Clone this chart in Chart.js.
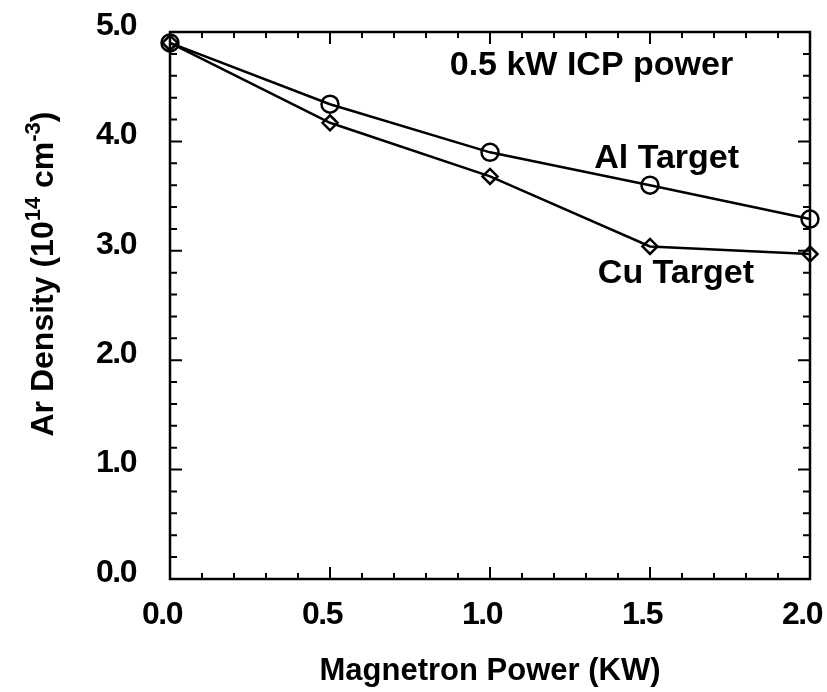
<!DOCTYPE html>
<html>
<head>
<meta charset="utf-8">
<script src="https://cdn.jsdelivr.net/npm/chart.js@4/dist/chart.umd.min.js"></script>
<style>
  html, body { margin: 0; padding: 0; background: #fff; }
  canvas { display: block; }
</style>
</head>
<body>
<canvas id="densityChart" width="827" height="692"></canvas>
<script>
"use strict";

// Magnetron power (kW) and Ar density (1e14 cm^-3) for each target
const POWER      = [0, 0.5, 1.0, 1.5, 2.0];
const AL_DENSITY = [4.90, 4.34, 3.90, 3.60, 3.29];
const CU_DENSITY = [4.90, 4.17, 3.68, 3.04, 2.97];

const SERIES_NAMES = ["Al Target", "Cu Target"];
const X_TICK_LABELS = ["0.0", "0.5", "1.0", "1.5", "2.0"];
const Y_TICK_LABELS = ["0.0", "1.0", "2.0", "3.0", "4.0", "5.0"];

const X_TITLE = "Magnetron Power (KW)";
// y title pieces: [text, isSuperscript]
const Y_TITLE = [["Ar Density (10", false], ["14", true], [" cm", false], ["-3", true], [")", false]];

// text placed inside the plot, baseline anchored in data units
const NOTES = [
  { text: "0.5 kW ICP power", x: 1.317, y: 4.607 },
  { text: SERIES_NAMES[0],    x: 1.552, y: 3.757 },
  { text: SERIES_NAMES[1],    x: 1.581, y: 2.706 }
];

const FONT = "'Liberation Sans', Arial, sans-serif";
const INK  = "#000";

function isMultiple(v, step) {
  const q = v / step;
  return Math.abs(q - Math.round(q)) < 1e-6;
}

// tight digit spacing for the tick labels only
const spacingPlugin = {
  id: "spacing",
  beforeDraw(chart) { chart.ctx.letterSpacing = "-1.5px"; },
  beforeDatasetsDraw(chart) { chart.ctx.letterSpacing = "0px"; }
};

// Frame on all four sides with inward major/minor ticks
const framePlugin = {
  id: "frame",
  afterDraw(chart) {
    const { ctx, chartArea: a, scales } = chart;
    ctx.save();
    ctx.strokeStyle = INK;
    ctx.lineWidth = 2.5;
    ctx.lineCap = "butt";
    ctx.strokeRect(a.left, a.top, a.right - a.left, a.bottom - a.top);

    ctx.lineWidth = 2;
    ctx.beginPath();
    scales.x.ticks.forEach(t => {
      const px = scales.x.getPixelForValue(t.value);
      const len = isMultiple(t.value, 0.5) ? 12 : 6;
      ctx.moveTo(px, a.bottom); ctx.lineTo(px, a.bottom - len);
      ctx.moveTo(px, a.top);    ctx.lineTo(px, a.top + len);
    });
    scales.y.ticks.forEach(t => {
      const py = scales.y.getPixelForValue(t.value);
      const len = isMultiple(t.value, 1) ? 12 : 7;
      ctx.moveTo(a.left, py);  ctx.lineTo(a.left + len, py);
      ctx.moveTo(a.right, py); ctx.lineTo(a.right - len, py);
    });
    ctx.stroke();
    ctx.restore();
  }
};

// In-plot notes, x title, and the rotated y title with superscripts
const textPlugin = {
  id: "texts",
  afterDraw(chart) {
    const { ctx, scales, chartArea: a } = chart;
    ctx.save();
    ctx.letterSpacing = "0px";
    ctx.fillStyle = INK;
    ctx.font = "bold 34px " + FONT;
    ctx.textAlign = "center";
    ctx.textBaseline = "alphabetic";
    NOTES.forEach(n => {
      ctx.fillText(n.text, scales.x.getPixelForValue(n.x), scales.y.getPixelForValue(n.y));
    });

    ctx.font = "bold 31px " + FONT;
    ctx.fillText(X_TITLE, (a.left + a.right) / 2, 680);

    const big = "bold 32px " + FONT;
    const small = "bold 22px " + FONT;
    let total = 0;
    Y_TITLE.forEach(([t, sup]) => {
      ctx.font = sup ? small : big;
      total += ctx.measureText(t).width;
    });
    ctx.translate(53, 274);
    ctx.rotate(-Math.PI / 2);
    ctx.textAlign = "left";
    let x = -total / 2;
    Y_TITLE.forEach(([t, sup]) => {
      ctx.font = sup ? small : big;
      ctx.fillText(t, x, sup ? -13 : 0);
      x += ctx.measureText(t).width;
    });
    ctx.restore();
  }
};

const ctx = document.getElementById("densityChart").getContext("2d");

new Chart(ctx, {
  type: "line",
  data: {
    datasets: [
      {
        label: SERIES_NAMES[0],
        data: POWER.map((p, i) => ({ x: p, y: AL_DENSITY[i] })),
        borderColor: INK,
        borderWidth: 2.5,
        pointStyle: "circle",
        pointRadius: 8.5,
        pointBorderWidth: 2.5,
        pointBorderColor: INK,
        pointBackgroundColor: "rgba(0,0,0,0)",
        tension: 0,
        clip: false
      },
      {
        label: SERIES_NAMES[1],
        data: POWER.map((p, i) => ({ x: p, y: CU_DENSITY[i] })),
        borderColor: INK,
        borderWidth: 2.5,
        pointStyle: "rectRot",
        pointRadius: 7.5,
        pointBorderWidth: 2.5,
        pointBorderColor: INK,
        pointBackgroundColor: "rgba(0,0,0,0)",
        tension: 0,
        clip: false
      }
    ]
  },
  options: {
    responsive: false,
    animation: false,
    layout: { padding: { top: 32, right: 17, left: 0, bottom: 0 } },
    plugins: {
      legend: { display: false },
      tooltip: { enabled: false }
    },
    scales: {
      x: {
        type: "linear",
        min: 0,
        max: 2,
        ticks: {
          stepSize: 0.1,
          autoSkip: false,
          maxRotation: 0,
          padding: 17,
          labelOffset: -8,
          color: INK,
          font: { family: FONT, size: 32, weight: "bold" },
          callback: v => isMultiple(v, 0.5) ? X_TICK_LABELS[Math.round(v / 0.5)] : ""
        },
        grid: { display: false, drawTicks: false },
        border: { display: false },
        afterFit: scale => {
          scale.height = 113;
          scale.paddingLeft = 0;
          scale.paddingRight = 0;
        }
      },
      y: {
        min: 0,
        max: 5,
        ticks: {
          stepSize: 0.2,
          autoSkip: false,
          padding: 34,
          labelOffset: -6,
          color: INK,
          font: { family: FONT, size: 32, weight: "bold" },
          callback: v => isMultiple(v, 1) ? Y_TICK_LABELS[Math.round(v)] : ""
        },
        grid: { display: false, drawTicks: false },
        border: { display: false },
        afterFit: scale => {
          scale.width = 170;
          scale.paddingTop = 0;
          scale.paddingBottom = 0;
        }
      }
    }
  },
  plugins: [spacingPlugin, framePlugin, textPlugin]
});
</script>
</body>
</html>
